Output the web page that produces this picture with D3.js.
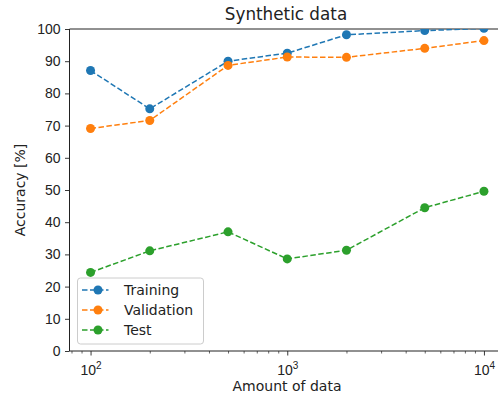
<!DOCTYPE html>
<html>
<head>
<meta charset="utf-8">
<script src="https://cdn.jsdelivr.net/npm/d3@7"></script>
<style>
  body { margin: 0; background: #fff; }
  svg { display: block; font-family: "DejaVu Sans", sans-serif; }
</style>
</head>
<body>
<div id="app"></div>
<script>
const width = 498;
const height = 398;
const margin = { top: 29, right: -7, bottom: 47, left: 69.5 };

const amounts = [100, 200, 500, 1000, 2000, 5000, 10000];
const training = [87.1, 75.2, 90.0, 92.5, 98.2, 99.5, 100.2];
const validation = [69.1, 71.6, 88.7, 91.3, 91.2, 94.0, 96.4];
const test = [24.4, 31.1, 37.0, 28.6, 31.3, 44.5, 49.6];
const yTicks = [0, 10, 20, 30, 40, 50, 60, 70, 80, 90, 100];
const xMajor = [100, 1000, 10000];

const series = [
  { name: "Training", values: training, color: "#1f77b4" },
  { name: "Validation", values: validation, color: "#ff7f0e" },
  { name: "Test", values: test, color: "#2ca02c" },
];

const x = d3.scaleLog()
  .domain([Math.pow(10, 1.893), Math.pow(10, 4.107)])
  .range([margin.left, width - margin.right]);

const y = d3.scaleLinear()
  .domain([0, 100])
  .range([height - margin.bottom, margin.top]);

const svg = d3.select("#app")
  .append("svg")
  .attr("width", width)
  .attr("height", height);

// clip for data
svg.append("clipPath").attr("id", "plot")
  .append("rect")
  .attr("x", margin.left)
  .attr("y", margin.top)
  .attr("width", width - margin.right - margin.left)
  .attr("height", height - margin.bottom - margin.top);

// minor ticks on log axis
const minor = [];
for (let e = 1; e <= 4; e++) {
  for (let m = 2; m <= 9; m++) {
    const v = m * Math.pow(10, e);
    if (v >= x.domain()[0] && v <= x.domain()[1]) minor.push(v);
  }
}

svg.append("g")
  .attr("transform", `translate(0, ${height - margin.bottom})`)
  .call(d3.axisBottom(x).tickValues(minor).tickSize(2.5).tickFormat(""))
  .call(g => g.select(".domain").remove())
  .call(g => g.selectAll("line").attr("stroke", "#222").attr("stroke-width", 0.7));

const majorG = svg.append("g")
  .attr("transform", `translate(0, ${height - margin.bottom})`)
  .call(d3.axisBottom(x).tickValues(xMajor).tickSize(4.5).tickFormat(""))
  .call(g => g.select(".domain").remove())
  .call(g => g.selectAll("line").attr("stroke", "#222").attr("stroke-width", 0.9));

majorG.selectAll(".tick").each(function (d) {
  const t = d3.select(this).append("text")
    .attr("y", 24)
    .attr("fill", "#222")
    .attr("text-anchor", "middle")
    .style("font-size", "14px");
  t.append("tspan").text("10");
  t.append("tspan")
    .attr("dy", -6)
    .style("font-size", "10px")
    .text(Math.round(Math.log10(d)));
});

svg.append("g")
  .attr("transform", `translate(${margin.left}, 0)`)
  .call(d3.axisLeft(y).tickValues(yTicks).tickSize(4.5).tickPadding(4.5))
  .call(g => g.select(".domain").remove())
  .call(g => g.selectAll("line").attr("stroke", "#222").attr("stroke-width", 0.9))
  .call(g => g.selectAll("text").attr("fill", "#222").style("font-size", "14px"));

// spines (left, bottom, top)
svg.append("line")
  .attr("x1", margin.left).attr("x2", margin.left)
  .attr("y1", margin.top).attr("y2", height - margin.bottom)
  .attr("stroke", "#222").attr("stroke-width", 1);
svg.append("line")
  .attr("x1", margin.left).attr("x2", width)
  .attr("y1", height - margin.bottom).attr("y2", height - margin.bottom)
  .attr("stroke", "#222").attr("stroke-width", 1);
svg.append("line")
  .attr("x1", margin.left).attr("x2", width)
  .attr("y1", margin.top).attr("y2", margin.top)
  .attr("stroke", "#222").attr("stroke-width", 1);

const line = d3.line()
  .x((d, i) => x(amounts[i]))
  .y(d => y(d));

const plot = svg.append("g").attr("clip-path", "url(#plot)");

series.forEach(s => {
  plot.append("path")
    .datum(s.values)
    .attr("fill", "none")
    .attr("stroke", s.color)
    .attr("stroke-width", 1.5)
    .attr("stroke-dasharray", "5.5,2.5")
    .attr("d", line);
  plot.selectAll(null)
    .data(s.values)
    .enter()
    .append("circle")
    .attr("cx", (d, i) => x(amounts[i]))
    .attr("cy", d => y(d))
    .attr("r", 4.5)
    .attr("fill", s.color);
});

// title + axis labels
svg.append("text")
  .attr("x", 286)
  .attr("y", 20)
  .attr("text-anchor", "middle")
  .attr("fill", "#222")
  .style("font-size", "16.8px")
  .text("Synthetic data");

svg.append("text")
  .attr("x", 287)
  .attr("y", 391)
  .attr("text-anchor", "middle")
  .attr("fill", "#222")
  .style("font-size", "14px")
  .text("Amount of data");

svg.append("text")
  .attr("transform", `translate(25, ${(margin.top + height - margin.bottom) / 2}) rotate(-90)`)
  .attr("text-anchor", "middle")
  .attr("fill", "#222")
  .style("font-size", "14px")
  .text("Accuracy [%]");

// legend
const legend = svg.append("g").attr("transform", "translate(77.5, 278)");
legend.append("rect")
  .attr("width", 126)
  .attr("height", 66)
  .attr("rx", 3)
  .attr("fill", "#fff")
  .attr("fill-opacity", 0.8)
  .attr("stroke", "#ccc")
  .attr("stroke-width", 1);

series.forEach((s, i) => {
  const row = legend.append("g").attr("transform", `translate(0, ${12 + i * 20})`);
  row.append("line")
    .attr("x1", 4.5).attr("x2", 31)
    .attr("stroke", s.color)
    .attr("stroke-width", 1.5)
    .attr("stroke-dasharray", "5.5,2.5");
  row.append("circle")
    .attr("cx", 20.5).attr("r", 4.5)
    .attr("fill", s.color);
  row.append("text")
    .attr("x", 46.5)
    .attr("y", 5)
    .attr("fill", "#222")
    .style("font-size", "14px")
    .text(s.name);
});
</script>
</body>
</html>
